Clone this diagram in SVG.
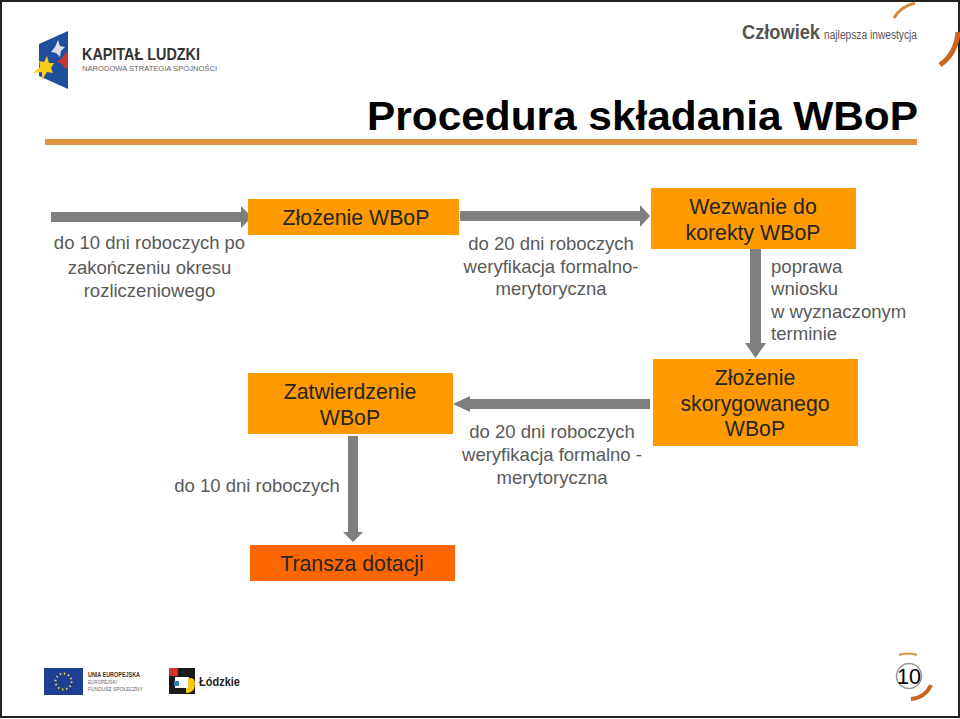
<svg xmlns="http://www.w3.org/2000/svg" width="960" height="719" viewBox="0 0 960 719">
<style>
text{font-family:"Liberation Sans",Arial,sans-serif}
.box{fill:#FF9900}
.bt{font-size:21.3px;fill:#262626;text-anchor:middle}
.gt{font-size:18.5px;fill:#595959;text-anchor:middle}
.gs{font-size:18.600px;fill:#595959}
.arr{fill:#7F7F7F}
</style>
<rect width="960" height="719" fill="#fff"/>
<rect x="1" y="1" width="958" height="716" fill="none" stroke="#222" stroke-width="2"/>

<g id="logo-kapital">
<polygon points="39,44 68,31 68,89 39,76" fill="#1F4E9C"/>
<polygon points="58,40 60,46 65,47 61,51 60,57 56,53 51,52 55,47" fill="#D8DCE8"/>
<polygon points="66,52 68,53 68,67 65,69 62,64 57,62 62,58" fill="#C8352C"/>
<polygon points="47,56 49,63 54,63 51,68 53,73 47,72 42,80 42,72 33,73 40,67 39,61 44,62" fill="#F5CF1A"/>
<text x="82" y="60" font-size="16.500" font-weight="bold" fill="#333" textLength="118" lengthAdjust="spacingAndGlyphs">KAPITAŁ LUDZKI</text>
<text x="82" y="71" font-size="7.500" fill="#666" textLength="135" lengthAdjust="spacingAndGlyphs">NARODOWA STRATEGIA SPÓJNOŚCI</text>
</g>

<g id="logo-czlowiek">
<text x="742" y="39" font-size="21" font-weight="bold" fill="#555" textLength="78" lengthAdjust="spacingAndGlyphs">Człowiek</text>
<text x="824" y="39" font-size="12.500" fill="#555" textLength="93" lengthAdjust="spacingAndGlyphs">najlepsza inwestycja</text>
<path d="M894 18Q900 7 915 3" fill="none" stroke="#D98A3C" stroke-width="3"/>
<path d="M958 32Q956 54 940 65" fill="none" stroke="#C9651F" stroke-width="5"/>
</g>

<text id="title" x="367" y="130" font-size="40" font-weight="bold" fill="#000" textLength="551" lengthAdjust="spacingAndGlyphs">Procedura składania WBoP</text>
<rect id="title-rule" x="45" y="139" width="872" height="6" fill="#E0923F"/>

<g id="connectors">
<polygon class="arr" points="51,212 241,212 241,206 252,217 241,228 241,222 51,222"/>
<polygon class="arr" points="460,211 640,211 640,205 650,216 640,227 640,221 460,221"/>
<polygon class="arr" points="750,249 761,249 761,343 766,343 755.500,358 745,343 750,343"/>
<polygon class="arr" points="650,399 470,399 470,396 453,404 470,412 470,409 650,409"/>
<polygon class="arr" points="348,436 358,436 358,532 363,532 353,542 343,532 348,532"/>
</g>

<g id="n-zlozenie">
<rect class="box" x="248" y="199" width="211" height="36"/>
<text class="bt" x="356" y="225">Złożenie WBoP</text>
</g>
<g id="n-wezwanie">
<rect class="box" x="651" y="188" width="205" height="61"/>
<text class="bt" x="753" y="214">Wezwanie do</text>
<text class="bt" x="753" y="240">korekty WBoP</text>
</g>
<g id="n-skorygowane">
<rect class="box" x="653" y="359" width="205" height="87"/>
<text class="bt" x="755" y="385">Złożenie</text>
<text class="bt" x="755" y="411">skorygowanego</text>
<text class="bt" x="755" y="436">WBoP</text>
</g>
<g id="n-zatwierdzenie">
<rect class="box" x="248" y="373" width="205" height="61"/>
<text class="bt" x="350" y="399">Zatwierdzenie</text>
<text class="bt" x="350" y="425">WBoP</text>
</g>
<g id="n-transza">
<rect x="250" y="545" width="205" height="36" fill="#FF6600"/>
<text class="bt" x="352" y="571">Transza dotacji</text>
</g>

<g id="labels">
<text class="gt" x="149.500" y="249">do 10 dni roboczych po</text>
<text class="gt" x="149.500" y="274">zakończeniu okresu</text>
<text class="gt" x="149.500" y="297">rozliczeniowego</text>
<text class="gt" x="551" y="250">do 20 dni roboczych</text>
<text class="gt" x="551" y="273">weryfikacja formalno-</text>
<text class="gt" x="551" y="295">merytoryczna</text>
<text class="gs" x="771" y="273">poprawa</text>
<text class="gs" x="771" y="295">wniosku</text>
<text class="gs" x="771" y="318">w wyznaczonym</text>
<text class="gs" x="771" y="340">terminie</text>
<text class="gt" x="552" y="438">do 20 dni roboczych</text>
<text class="gt" x="552" y="461">weryfikacja formalno -</text>
<text class="gt" x="552" y="484">merytoryczna</text>
<text class="gt" x="257" y="492">do 10 dni roboczych</text>
</g>

<g id="logo-eu">
<rect x="44" y="668" width="39" height="27" fill="#1F3F94"/>
<circle cx="63.500" cy="681.500" r="8" fill="none" stroke="#E8D44A" stroke-width="2" stroke-dasharray="1.500 2.700"/>
<text x="88" y="677" font-size="6.500" font-weight="bold" fill="#333" textLength="52" lengthAdjust="spacingAndGlyphs">UNIA EUROPEJSKA</text>
<text x="88" y="684" font-size="6" fill="#666" textLength="29" lengthAdjust="spacingAndGlyphs">EUROPEJSKI</text>
<text x="88" y="691" font-size="6" fill="#666" textLength="55" lengthAdjust="spacingAndGlyphs">FUNDUSZ SPOŁECZNY</text>
</g>
<g id="logo-lodzkie">
<rect x="169" y="668" width="26" height="26" fill="#1A1A1A"/>
<rect x="169" y="668" width="9" height="8" fill="#D3302A"/>
<rect x="175" y="677" width="14" height="11" fill="#fff"/>
<rect x="174" y="681" width="5" height="5" fill="#2F7FB5"/>
<path d="M188 678H191Q195 678 195 684Q195 693 186 693V688H188Z" fill="#F5C518"/>
<text x="199" y="686" font-size="12.500" font-weight="bold" fill="#222" textLength="41" lengthAdjust="spacingAndGlyphs">Łódzkie</text>
</g>
<g id="page-number">
<path d="M899 655Q908 652 917 655" fill="none" stroke="#D98A3C" stroke-width="2"/>
<path d="M931 685Q925 698 911 699" fill="none" stroke="#C9651F" stroke-width="4"/>
<circle cx="909" cy="676" r="12.500" fill="#fff" stroke="#999" stroke-width="1.500"/>
<text x="909" y="684" font-size="21.500" fill="#000" text-anchor="middle">10</text>
</g>
</svg>
